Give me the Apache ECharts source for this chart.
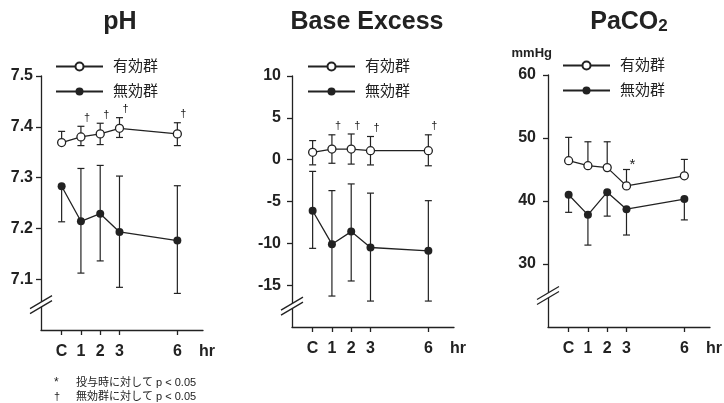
<!DOCTYPE html>
<html>
<head>
<meta charset="utf-8">
<script src="https://cdn.jsdelivr.net/npm/echarts@6/dist/echarts.min.js"></script>
<style>
  html, body { margin: 0; padding: 0; background: #fff; }
  #chart { width: 724px; height: 403px; }
</style>
</head>
<body>
<div id="chart"></div>
<script>
// time points (hr), C = control
var hours = [0, 1, 2, 3, 6];
var xLabels = ['C', '1', '2', '3', '6'];
var groupNames = ['有効群', '無効群'];

// pH
var phTicks = [7.1, 7.2, 7.3, 7.4, 7.5];
var phEffMean = [7.369, 7.380, 7.386, 7.397, 7.386];
var phEffUp = [0.022, 0.021, 0.021, 0.021, 0.022];
var phEffDown = [0, 0.017, 0.021, 0.018, 0.023];
var phNonMean = [7.283, 7.214, 7.229, 7.193, 7.176];
var phNonUp = [0, 0.104, 0.095, 0.110, 0.108];
var phNonDown = [0.070, 0.102, 0.093, 0.109, 0.104];
var phMarks = ['', '†', '†', '†', '†'];

// Base Excess
var beTicks = [-15, -10, -5, 0, 5, 10];
var beEffMean = [0.88, 1.27, 1.27, 1.07, 1.07];
var beEffUp = [1.4, 1.7, 1.8, 1.7, 1.9];
var beEffDown = [1.5, 1.7, 1.8, 1.7, 1.8];
var beNonMean = [-6.1, -10.1, -8.6, -10.5, -10.9];
var beNonUp = [4.7, 6.4, 5.7, 6.5, 6.0];
var beNonDown = [4.5, 6.2, 5.9, 6.4, 6.0];
var beMarks = ['', '†', '†', '†', '†'];

// PaCO2
var paTicks = [30, 40, 50, 60];
var paEffMean = [46.4, 45.6, 45.3, 42.4, 44.0];
var paEffUp = [3.7, 3.8, 4.1, 2.6, 2.6];
var paEffDown = [0, 0, 0, 0, 0];
var paNonMean = [41.0, 37.8, 41.4, 38.7, 40.3];
var paNonUp = [0, 0, 0, 0, 0];
var paNonDown = [2.8, 4.8, 3.8, 4.1, 3.3];
var paMarks = ['', '', '', '*', ''];

var FONT = "'Liberation Sans', Arial, 'Noto Sans CJK JP', sans-serif";
var INK = '#222';

var panels = [
    { title: 'pH', cx: 120, grid: { left: 41, top: 76, width: 162, height: 254 },
      min: 7.0, max: 7.5, ticks: phTicks, fmt: function (v) { return v.toFixed(1); }, labelMargin: 8,
      eff: [phEffMean, phEffUp, phEffDown], non: [phNonMean, phNonUp, phNonDown], marks: phMarks,
      legendLeft: 55, legendTop: 59 },
    { title: 'Base Excess', cx: 367, grid: { left: 292, top: 76, width: 162, height: 251 },
      min: -20, max: 10, ticks: beTicks, fmt: function (v) { return String(v); }, labelMargin: 11,
      eff: [beEffMean, beEffUp, beEffDown], non: [beNonMean, beNonUp, beNonDown], marks: beMarks,
      legendLeft: 307, legendTop: 59 },
    { title: 'PaCO{s|2}', cx: 629, grid: { left: 548, top: 75, width: 162, height: 252 },
      min: 20, max: 60, ticks: paTicks, fmt: function (v) { return String(v); }, labelMargin: 12,
      eff: [paEffMean, paEffUp, paEffDown], non: [paNonMean, paNonUp, paNonDown], marks: paMarks,
      legendLeft: 562, legendTop: 58 }
];

function errorBars(marks) {
    return function (params, api) {
        var x = api.value(0), m = api.value(1), up = api.value(2), down = api.value(3);
        var top = api.coord([x, m + up]);
        var bot = api.coord([x, m - down]);
        var st = { stroke: INK, lineWidth: 1.2 };
        var kids = [{ type: 'line', shape: { x1: top[0], y1: top[1], x2: bot[0], y2: bot[1] }, style: st }];
        if (up > 0) kids.push({ type: 'line', shape: { x1: top[0] - 3.5, y1: top[1], x2: top[0] + 3.5, y2: top[1] }, style: st });
        if (down > 0) kids.push({ type: 'line', shape: { x1: bot[0] - 3.5, y1: bot[1], x2: bot[0] + 3.5, y2: bot[1] }, style: st });
        var mk = marks ? marks[params.dataIndex] : '';
        if (mk === '†') {
            kids.push({ type: 'text', x: top[0] + 3, y: top[1] - 3,
                style: { text: mk, font: '11px ' + FONT, fill: INK, align: 'left', verticalAlign: 'bottom' } });
        } else if (mk) {
            kids.push({ type: 'text', x: top[0] + 3, y: top[1] - 12,
                style: { text: mk, font: '15px ' + FONT, fill: INK, align: 'left', verticalAlign: 'top' } });
        }
        return { type: 'group', children: kids };
    };
}

var grids = [], xAxes = [], yAxes = [], series = [], legends = [];
panels.forEach(function (p, i) {
    grids.push(p.grid);
    xAxes.push({
        type: 'value', gridIndex: i, min: -1.07, max: 7.33,
        axisLine: { onZero: false, lineStyle: { color: INK, width: 1.3 } },
        axisTick: { customValues: hours, length: 5, lineStyle: { color: INK, width: 1.3 } },
        axisLabel: { customValues: hours, margin: 14, color: INK, fontFamily: FONT, fontSize: 16, fontWeight: 'bold',
            formatter: function (v) { return xLabels[hours.indexOf(v)]; } },
        splitLine: { show: false }
    });
    yAxes.push({
        type: 'value', gridIndex: i, min: p.min, max: p.max,
        axisLine: { show: true, onZero: false, lineStyle: { color: INK, width: 1.3 } },
        axisTick: { show: true, customValues: p.ticks, length: 5, lineStyle: { color: INK, width: 1.3 } },
        axisLabel: { customValues: p.ticks, margin: p.labelMargin, color: INK, fontFamily: FONT, fontSize: 16,
            fontWeight: 'bold', formatter: p.fmt },
        splitLine: { show: false }
    });
    [p.eff, p.non].forEach(function (g, k) {
        series.push({
            type: 'custom', xAxisIndex: i, yAxisIndex: i, z: 1, silent: true,
            renderItem: errorBars(k === 0 ? p.marks : null),
            data: hours.map(function (h, j) { return [h, g[0][j], g[1][j], g[2][j]]; })
        });
        series.push({
            type: 'line', name: groupNames[k], xAxisIndex: i, yAxisIndex: i, z: 3,
            symbol: 'circle', symbolSize: 8,
            itemStyle: k === 0 ? { color: '#fff', borderColor: INK, borderWidth: 1.3 } : { color: INK },
            lineStyle: { color: INK, width: 1.3 },
            emphasis: { disabled: true },
            data: hours.map(function (h, j) { return [h, g[0][j]]; })
        });
    });
    legends.push({
        left: p.legendLeft, top: p.legendTop, orient: 'vertical', padding: 0,
        itemWidth: 47, itemHeight: 10, itemGap: 10, selectedMode: false,
        textStyle: { color: INK, fontFamily: FONT, fontSize: 15, padding: [0, 0, 0, 5] },
        data: groupNames
    });
});

var chart = echarts.init(document.getElementById('chart'));
chart.setOption({
    animation: false,
    backgroundColor: '#fff',
    grid: grids,
    xAxis: xAxes,
    yAxis: yAxes,
    legend: legends,
    series: series
});

// titles, unit labels, notes, axis break marks
var gfx = [];
panels.forEach(function (p, i) {
    gfx.push({ type: 'text', x: p.cx, y: 22, silent: true,
        style: { text: p.title, font: 'bold 25px ' + FONT, fill: INK, align: 'center', verticalAlign: 'middle',
            rich: { s: { font: 'bold 17px ' + FONT, fill: INK, verticalAlign: 'bottom' } } } });
    var right = p.grid.left + p.grid.width;
    var bottom = p.grid.top + p.grid.height;
    gfx.push({ type: 'text', x: right - 4, y: bottom + 22, silent: true,
        style: { text: 'hr', font: 'bold 16px ' + FONT, fill: INK, align: 'left', verticalAlign: 'middle' } });
    var bx = p.grid.left;
    var by = chart.convertToPixel({ yAxisIndex: i }, (p.min + p.ticks[0]) / 2);
    gfx.push({ type: 'polygon', silent: true, z: 100,
        shape: { points: [[bx - 11, by + 4], [bx + 11, by - 9], [bx + 11, by - 4], [bx - 11, by + 9]] },
        style: { fill: '#fff' } });
    [-2.5, 2.5].forEach(function (d) {
        gfx.push({ type: 'line', silent: true, z: 101,
            shape: { x1: bx - 11, y1: by + 6.5 + d, x2: bx + 11, y2: by - 6.5 + d },
            style: { stroke: INK, lineWidth: 1.3 } });
    });
});
gfx.push({ type: 'text', x: 552, y: 53, silent: true,
    style: { text: 'mmHg', font: 'bold 13px ' + FONT, fill: INK, align: 'right', verticalAlign: 'middle' } });
gfx.push({ type: 'text', x: 54, y: 383, silent: true,
    style: { text: '*', font: '12px ' + FONT, fill: INK, verticalAlign: 'middle' } });
gfx.push({ type: 'text', x: 76, y: 383, silent: true,
    style: { text: '投与時に対して p < 0.05', font: '11px ' + FONT, fill: INK, verticalAlign: 'middle' } });
gfx.push({ type: 'text', x: 54, y: 397, silent: true,
    style: { text: '†', font: '11px ' + FONT, fill: INK, verticalAlign: 'middle' } });
gfx.push({ type: 'text', x: 76, y: 397, silent: true,
    style: { text: '無効群に対して p < 0.05', font: '11px ' + FONT, fill: INK, verticalAlign: 'middle' } });
chart.setOption({ graphic: gfx });
</script>
</body>
</html>
